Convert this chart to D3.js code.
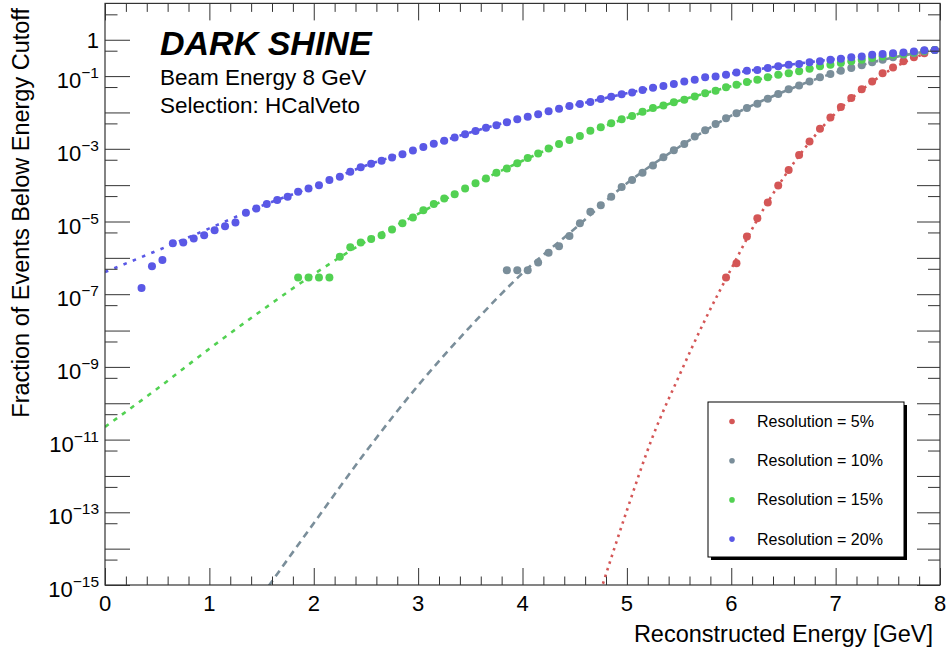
<!DOCTYPE html>
<html>
<head>
<meta charset="utf-8">
<script src="https://cdn.jsdelivr.net/npm/d3@7"></script>
<style>
body { margin: 0; background: #fff; }
text { font-family: "Liberation Sans", Arial, Helvetica, sans-serif; }
</style>
</head>
<body>
<script>

// bin centres of the energy histogram [GeV]
let binE = [0.05,0.15,0.25,0.35,0.45,0.55,0.65,0.75,0.85,0.95,
	1.05,1.15,1.25,1.35,1.45,1.55,1.65,1.75,1.85,1.95,
	2.05,2.15,2.25,2.35,2.45,2.55,2.65,2.75,2.85,2.95,
	3.05,3.15,3.25,3.35,3.45,3.55,3.65,3.75,3.85,3.95,
	4.05,4.15,4.25,4.35,4.45,4.55,4.65,4.75,4.85,4.95,
	5.05,5.15,5.25,5.35,5.45,5.55,5.65,5.75,5.85,5.95,
	6.05,6.15,6.25,6.35,6.45,6.55,6.65,6.75,6.85,6.95,
	7.05,7.15,7.25,7.35,7.45,7.55,7.65,7.75,7.85,7.95];

// log10(fraction) read off for each resolution, first non-empty bin given by index
let res5First = 59;
let res5Log = [-6.54,-6.15,-5.41,-4.91,-4.48,-4.01,-3.58,-3.17,-2.80,-2.45,
	-2.14,-1.85,-1.60,-1.36,-1.15,-0.92,-0.76,-0.59,-0.48,-0.37,-0.28];

let res10First = 38;
let res10Log = [-6.34,-6.34,-6.34,-6.13,-5.86,-5.68,-5.40,-5.05,-4.73,-4.55,
	-4.32,-4.05,-3.86,-3.66,-3.46,-3.23,-3.04,-2.87,-2.66,-2.49,
	-2.32,-2.16,-2.02,-1.88,-1.76,-1.62,-1.49,-1.36,-1.26,-1.15,
	-1.03,-0.94,-0.85,-0.78,-0.70,-0.62,-0.55,-0.48,-0.41,-0.37,
	-0.32,-0.28];

let res15First = 18;
let res15Log = [-6.54,-6.54,-6.54,-6.54,-5.97,-5.71,-5.58,-5.48,-5.38,-5.22,
	-5.05,-4.89,-4.69,-4.52,-4.37,-4.25,-4.09,-3.95,-3.82,-3.66,
	-3.54,-3.40,-3.25,-3.13,-2.99,-2.87,-2.76,-2.65,-2.50,-2.41,
	-2.30,-2.19,-2.10,-1.98,-1.88,-1.81,-1.72,-1.65,-1.56,-1.47,
	-1.40,-1.31,-1.24,-1.16,-1.10,-1.03,-0.96,-0.92,-0.87,-0.80,
	-0.73,-0.69,-0.64,-0.59,-0.55,-0.50,-0.46,-0.41,-0.39,-0.35,
	-0.30,-0.28];

let res20First = 3;
let res20Log = [-6.83,-6.23,-6.06,-5.60,-5.58,-5.47,-5.38,-5.24,-5.13,-5.03,
	-4.76,-4.64,-4.52,-4.41,-4.32,-4.18,-4.09,-4.00,-3.86,-3.77,
	-3.63,-3.51,-3.41,-3.33,-3.24,-3.15,-3.05,-2.95,-2.86,-2.78,
	-2.69,-2.60,-2.51,-2.42,-2.35,-2.27,-2.19,-2.12,-2.05,-1.97,
	-1.90,-1.82,-1.77,-1.71,-1.63,-1.57,-1.50,-1.45,-1.38,-1.32,
	-1.27,-1.22,-1.15,-1.10,-1.03,-1.01,-0.96,-0.90,-0.85,-0.83,
	-0.78,-0.73,-0.69,-0.67,-0.62,-0.59,-0.55,-0.52,-0.48,-0.46,
	-0.41,-0.39,-0.37,-0.35,-0.32,-0.29,-0.28];

// fitted curves, read at a few energies
let fit5E = [4.75,5,5.25,5.5,5.75,6,6.25,6.5,6.75,7,7.25,7.5,7.75,8];
let fit5Log = [-15.15,-12.95,-10.9,-9.25,-7.7,-6.3,-4.95,-3.8,-2.82,-2.02,-1.38,-0.87,-0.5,-0.26];
let fit10E = [1.5,2,2.5,3,3.5,4,4.5,5,5.5,6,6.5,7,7.5,8];
let fit10Log = [-15.3,-13.3,-11.33,-9.51,-7.89,-6.42,-5.2,-3.95,-2.95,-2.09,-1.43,-0.9,-0.52,-0.26];
let fit15E = [0,0.5,1,1.5,2,2.5,3,3.5,4,4.5,5,5.5,6,6.5,7,7.5,8];
let fit15Log = [-10.65,-9.6,-8.5,-7.45,-6.45,-5.55,-4.79,-4.02,-3.33,-2.70,-2.15,-1.68,-1.28,-0.94,-0.67,-0.44,-0.26];
let fit20E = [0,0.5,1,1.5,2,2.5,3,3.5,4,4.5,5,5.5,6,6.5,7,7.5,8];
let fit20Log = [-6.39,-5.80,-5.19,-4.57,-4.04,-3.46,-3.0,-2.55,-2.15,-1.80,-1.47,-1.18,-0.93,-0.71,-0.53,-0.38,-0.26];

let legendNames = ["Resolution = 5%","Resolution = 10%","Resolution = 15%","Resolution = 20%"];
let xTickLabels = [0,1,2,3,4,5,6,7,8];
let yLabelExps = [0,-1,-3,-5,-7,-9,-11,-13,-15];

let colors = ["#d45656","#7a8e9a","#52d152","#5a58e6"];
let dashes = ["2.5,4.5","7,5","4.5,6","3.5,6.5"];

let series = [
	{first: res5First, vals: res5Log, fitE: fit5E, fitL: fit5Log},
	{first: res10First, vals: res10Log, fitE: fit10E, fitL: fit10Log},
	{first: res15First, vals: res15Log, fitE: fit15E, fitL: fit15Log},
	{first: res20First, vals: res20Log, fitE: fit20E, fitL: fit20Log}
];

let L = 105, R = 940, T = 3.4, B = 585;

let svg = d3.select("body").append("svg")
	.attr("width", 948)
	.attr("height", 652);

let x = d3.scaleLinear().domain([0, 8]).range([L, R]);
let y = d3.scaleLog().domain([1e-15, 10]).range([B, T]);

svg.append("clipPath").attr("id", "plotclip")
	.append("rect")
	.attr("x", L).attr("y", T)
	.attr("width", R - L).attr("height", B - T);

//fit lines
let line = d3.line()
	.x(d => x(d[0]))
	.y(d => y(Math.pow(10, d[1])))
	.curve(d3.curveMonotoneX);

series.forEach((s, i) => {
	let pts = s.fitE.map((e, j) => [e, s.fitL[j]]);
	svg.append("path")
		.datum(pts)
		.attr("clip-path", "url(#plotclip)")
		.attr("d", line)
		.attr("fill", "none")
		.attr("stroke", colors[i])
		.attr("stroke-width", 2.6)
		.attr("stroke-dasharray", dashes[i]);
});

//points
series.forEach((s, i) => {
	let pts = s.vals.map((v, j) => [binE[s.first + j], v]);
	svg.append("g").selectAll("circle")
		.data(pts)
		.enter()
		.append("circle")
		.attr("cx", d => x(d[0]))
		.attr("cy", d => y(Math.pow(10, d[1])))
		.attr("r", 4)
		.attr("fill", colors[i]);
});

//frame
svg.append("rect")
	.attr("x", L).attr("y", T)
	.attr("width", R - L).attr("height", B - T)
	.attr("fill", "none")
	.attr("stroke", "#333")
	.attr("stroke-width", 1.2);

// x ticks, bottom and top
let xMinor = d3.range(0, 8.001, 0.2).filter(v => Math.abs(v - Math.round(v)) > 0.01);
svg.append("g")
	.attr("transform", `translate(0,${B})`)
	.call(d3.axisBottom(x).tickValues(xMinor).tickSize(-8.5).tickFormat(""));
svg.append("g")
	.attr("transform", `translate(0,${B})`)
	.call(d3.axisBottom(x).tickValues(xTickLabels).tickSize(-17).tickFormat(""));
svg.append("g")
	.attr("transform", `translate(0,${T})`)
	.call(d3.axisTop(x).tickValues(xMinor).tickSize(-8.5).tickFormat(""));
svg.append("g")
	.attr("transform", `translate(0,${T})`)
	.call(d3.axisTop(x).tickValues(xTickLabels).tickSize(-17).tickFormat(""));

// y ticks, left and right
let yMajor = d3.range(-15, 1).map(e => Math.pow(10, e));
let yMinor = d3.range(-15, 1).map(e => 5 * Math.pow(10, e));
svg.append("g")
	.attr("transform", `translate(${L},0)`)
	.call(d3.axisLeft(y).tickValues(yMajor).tickSize(-25).tickFormat(""));
svg.append("g")
	.attr("transform", `translate(${L},0)`)
	.call(d3.axisLeft(y).tickValues(yMinor).tickSize(-12.5).tickFormat(""));
svg.append("g")
	.attr("transform", `translate(${R},0)`)
	.call(d3.axisRight(y).tickValues(yMajor).tickSize(-23).tickFormat(""));
svg.append("g")
	.attr("transform", `translate(${R},0)`)
	.call(d3.axisRight(y).tickValues(yMinor).tickSize(-12).tickFormat(""));

svg.selectAll(".domain").remove();
svg.selectAll(".tick line").attr("stroke", "#333").attr("stroke-width", 1);

// x labels
xTickLabels.forEach(t => {
	svg.append("text")
		.attr("x", x(t))
		.attr("y", 611)
		.attr("text-anchor", "middle")
		.attr("font-size", 22)
		.text(t);
});

svg.append("text")
	.attr("x", 933)
	.attr("y", 642)
	.attr("text-anchor", "end")
	.attr("font-size", 23.5)
	.text("Reconstructed Energy [GeV]");

// y labels
yLabelExps.forEach(e => {
	let yy = y(Math.pow(10, e));
	if (e === 0) {
		svg.append("text")
			.attr("x", 99)
			.attr("y", yy + 8)
			.attr("text-anchor", "end")
			.attr("font-size", 22)
			.text("1");
	} else {
		let t = svg.append("text")
			.attr("x", 99)
			.attr("y", yy + 12)
			.attr("text-anchor", "end")
			.attr("font-size", 22);
		t.append("tspan").text("10");
		t.append("tspan")
			.attr("dy", -10)
			.attr("font-size", 15.5)
			.text("\u2212" + (-e));
	}
});

svg.append("text")
	.attr("transform", "translate(29,8) rotate(-90)")
	.attr("text-anchor", "end")
	.attr("font-size", 23.5)
	.text("Fraction of Events Below Energy Cutoff");

// header texts
svg.append("text")
	.attr("x", 160).attr("y", 55)
	.attr("font-size", 34)
	.attr("font-weight", "bold")
	.attr("font-style", "italic")
	.text("DARK SHINE");
svg.append("text")
	.attr("x", 160).attr("y", 84.5)
	.attr("font-size", 22.5)
	.text("Beam Energy 8 GeV");
svg.append("text")
	.attr("x", 160).attr("y", 113)
	.attr("font-size", 22.5)
	.text("Selection: HCalVeto");

// legend
let lg = svg.append("g");
lg.append("rect")
	.attr("x", 711).attr("y", 405)
	.attr("width", 196).attr("height", 155)
	.attr("fill", "#000");
lg.append("rect")
	.attr("x", 708).attr("y", 402)
	.attr("width", 196).attr("height", 155)
	.attr("fill", "#fff")
	.attr("stroke", "#000")
	.attr("stroke-width", 1);

legendNames.forEach((n, i) => {
	let cy = 421.5 + i * 39.2;
	lg.append("circle")
		.attr("cx", 732).attr("cy", cy)
		.attr("r", 2.8)
		.attr("fill", colors[i]);
	lg.append("text")
		.attr("x", 757).attr("y", cy + 5.5)
		.attr("font-size", 16)
		.text(n);
});

</script>
</body>
</html>
